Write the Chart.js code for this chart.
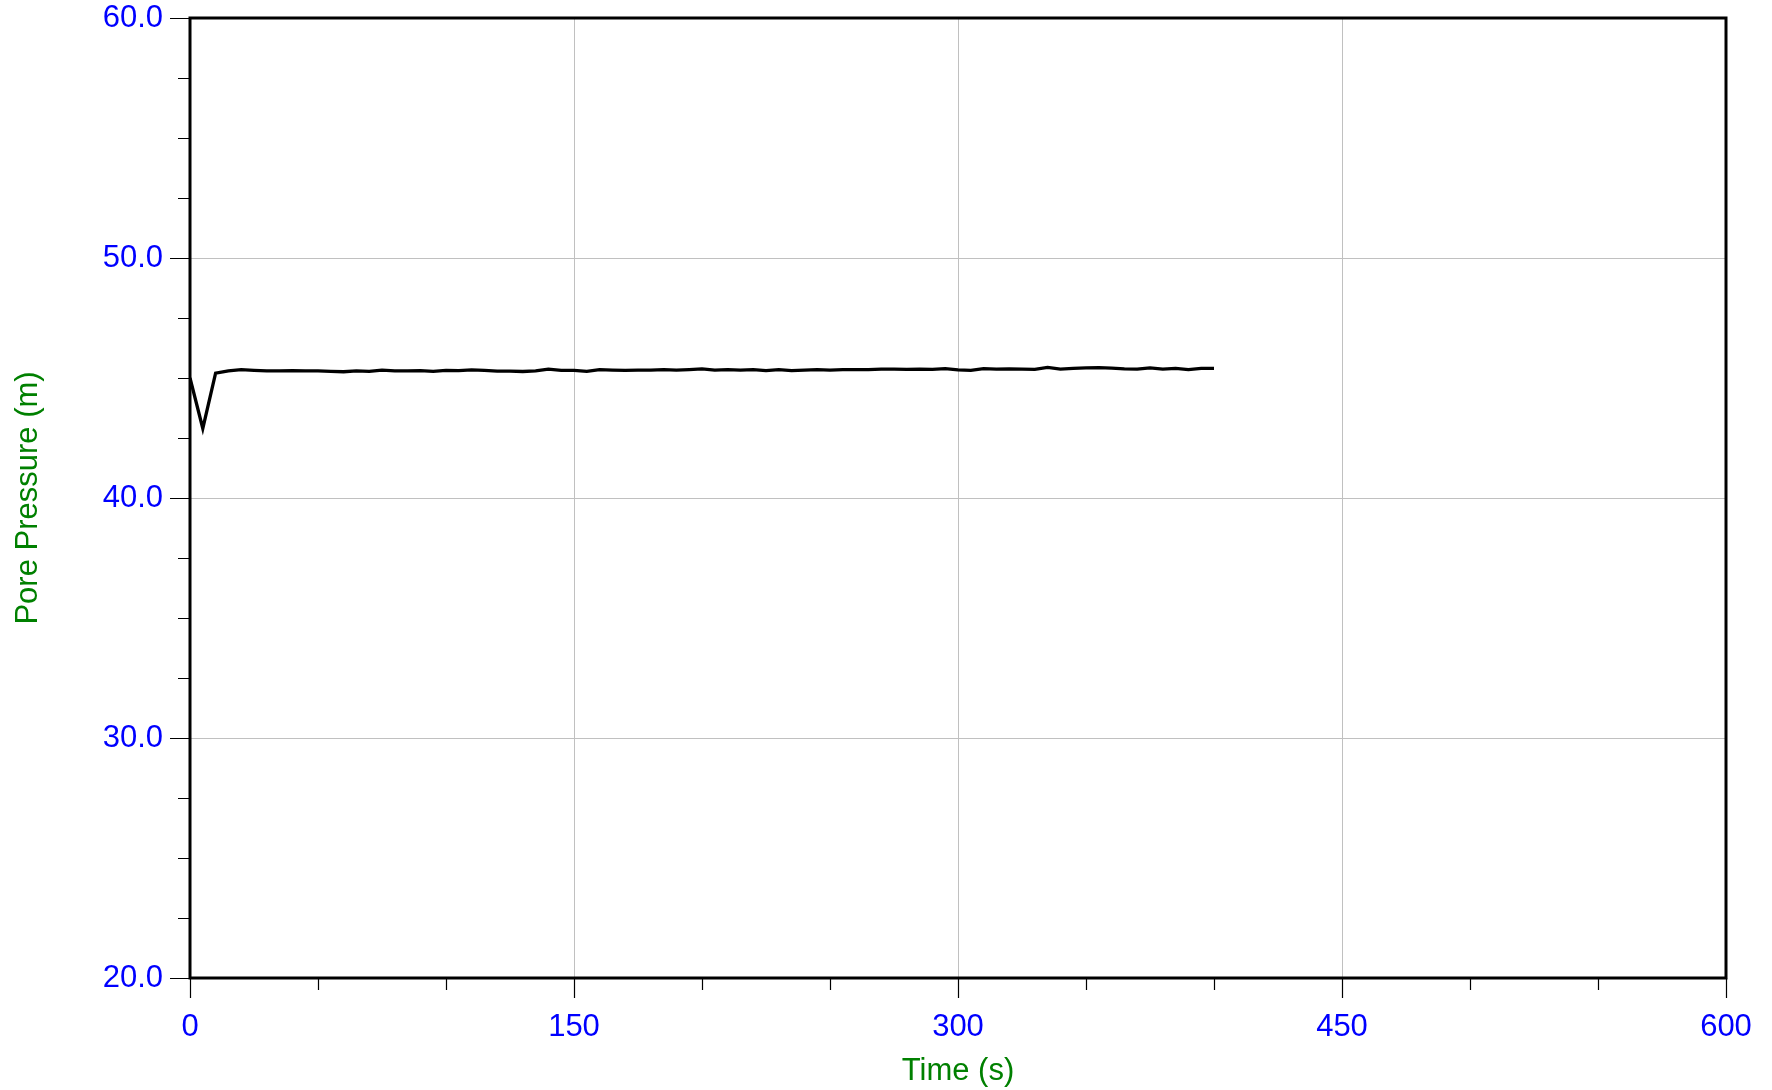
<!DOCTYPE html>
<html>
<head>
<meta charset="utf-8">
<script src="https://cdn.jsdelivr.net/npm/chart.js@4.4.0/dist/chart.umd.min.js"></script>
<style>
  body { margin: 0; background: #ffffff; }
  #wrap { width: 1772px; height: 1090px; }
</style>
</head>
<body>
<div id="wrap"><canvas id="porePressure" width="1772" height="1090"></canvas></div>
<script>
// time in seconds
const tiempo = [0, 5, 10, 15, 20, 25, 30, 35, 40, 45, 50, 55, 60, 65, 70, 75, 80, 85, 90, 95,
  100, 105, 110, 115, 120, 125, 130, 135, 140, 145, 150, 155, 160, 165, 170, 175, 180, 185, 190, 195,
  200, 205, 210, 215, 220, 225, 230, 235, 240, 245, 250, 255, 260, 265, 270, 275, 280, 285, 290, 295,
  300, 305, 310, 315, 320, 325, 330, 335, 340, 345, 350, 355, 360, 365, 370, 375, 380, 385, 390, 395, 400];

// pore pressure in m
const presion = [45.00, 42.90, 45.20, 45.30, 45.35, 45.32, 45.30, 45.30, 45.31, 45.30, 45.30, 45.28, 45.26, 45.30, 45.28, 45.33, 45.30, 45.30, 45.31, 45.28,
  45.32, 45.31, 45.34, 45.32, 45.29, 45.29, 45.27, 45.30, 45.37, 45.32, 45.32, 45.28, 45.35, 45.33, 45.32, 45.33, 45.33, 45.35, 45.33, 45.35,
  45.38, 45.33, 45.35, 45.33, 45.35, 45.31, 45.35, 45.31, 45.33, 45.35, 45.33, 45.35, 45.35, 45.35, 45.37, 45.37, 45.36, 45.37, 45.36, 45.39,
  45.34, 45.32, 45.39, 45.37, 45.38, 45.37, 45.36, 45.44, 45.37, 45.40, 45.42, 45.43, 45.41, 45.38, 45.37, 45.42, 45.37, 45.40, 45.35, 45.40, 45.40];

const ticks_x = [0, 150, 300, 450, 600];
const ticks_y = [20, 30, 40, 50, 60];
const paso_menor_x = 50;
const paso_menor_y = 2.5;

const azul = '#0000ff';
const verde = '#008000';
const fuente = 'Arial, "Liberation Sans", sans-serif';

// frame + tick marks drawn outside the plot area
const marcoYMarcas = {
  id: 'marcoYMarcas',
  afterDraw(chart) {
    const ctx = chart.ctx;
    const a = chart.chartArea;
    const sx = chart.scales.x;
    const sy = chart.scales.y;
    ctx.save();
    ctx.strokeStyle = '#000000';
    ctx.lineWidth = 1.2;
    ctx.beginPath();
    for (let v = sx.min; v <= sx.max + 1e-9; v += paso_menor_x) {
      const px = Math.round(sx.getPixelForValue(v)) + 0.5;
      const largo = ticks_x.includes(v) ? 20 : 12;
      ctx.moveTo(px, a.bottom);
      ctx.lineTo(px, a.bottom + largo);
    }
    for (let v = sy.min; v <= sy.max + 1e-9; v += paso_menor_y) {
      const py = Math.round(sy.getPixelForValue(v)) + 0.5;
      const largo = ticks_y.includes(v) ? 20 : 12;
      ctx.moveTo(a.left, py);
      ctx.lineTo(a.left - largo, py);
    }
    ctx.stroke();
    ctx.lineWidth = 3;
    ctx.strokeRect(a.left, a.top, a.right - a.left, a.bottom - a.top);
    ctx.restore();
  }
};

function sinRelleno(scale) {
  scale.paddingTop = 0;
  scale.paddingBottom = 0;
  scale.paddingLeft = 0;
  scale.paddingRight = 0;
}

const ctx_presion = document.getElementById('porePressure').getContext('2d');
const graf_presion = new Chart(ctx_presion, {
  type: 'line',
  data: {
    datasets: [{
      label: 'Pore Pressure',
      data: tiempo.map((t, i) => ({ x: t, y: presion[i] })),
      borderColor: '#000000',
      borderWidth: 3.3,
      pointRadius: 0,
      tension: 0,
      fill: false
    }]
  },
  options: {
    responsive: false,
    animation: false,
    devicePixelRatio: 1,
    layout: { padding: { left: 0, top: 18, right: 46, bottom: 0 } },
    plugins: { legend: { display: false }, tooltip: { enabled: false } },
    scales: {
      x: {
        type: 'linear',
        min: 0,
        max: 600,
        afterBuildTicks(scale) { scale.ticks = ticks_x.map(v => ({ value: v })); },
        afterFit(scale) { scale.height = 112; sinRelleno(scale); },
        grid: { color: '#c0c0c0', lineWidth: 1, drawTicks: false },
        border: { display: false },
        ticks: {
          color: azul,
          font: { family: fuente, size: 31 },
          padding: 31,
          maxRotation: 0,
          callback: v => String(v)
        },
        title: {
          display: true,
          text: 'Time (s)',
          color: verde,
          font: { family: fuente, size: 31 },
          padding: { top: 0, bottom: 0 }
        }
      },
      y: {
        type: 'linear',
        min: 20,
        max: 60,
        afterBuildTicks(scale) { scale.ticks = ticks_y.map(v => ({ value: v })); },
        afterFit(scale) { scale.width = 190; sinRelleno(scale); },
        grid: { color: '#c0c0c0', lineWidth: 1, drawTicks: false },
        border: { display: false },
        ticks: {
          color: azul,
          font: { family: fuente, size: 31 },
          padding: 27,
          callback: v => Number(v).toFixed(1)
        },
        title: {
          display: true,
          text: 'Pore Pressure (m)',
          color: verde,
          font: { family: fuente, size: 31 },
          padding: { top: 10, bottom: 0 }
        }
      }
    }
  },
  plugins: [marcoYMarcas]
});
</script>
</body>
</html>
